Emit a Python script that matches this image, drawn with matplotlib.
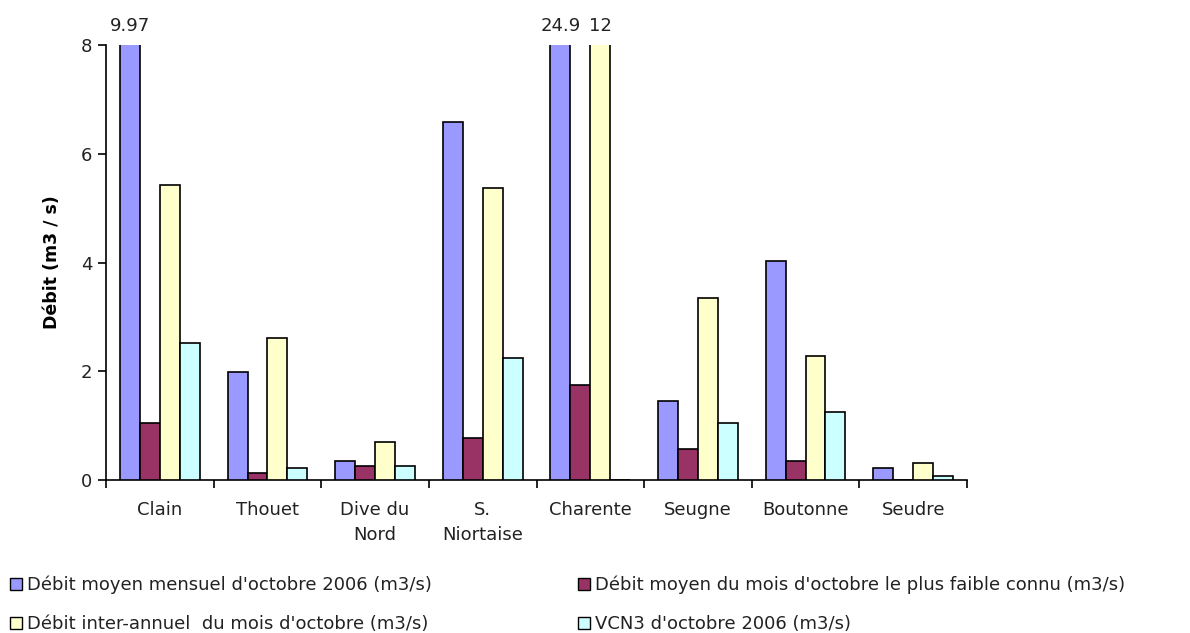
import matplotlib
matplotlib.use("Agg")
import matplotlib.pyplot as plt
import matplotlib.patches as mpatches
import numpy as np

plt.rcParams['font.family'] = ['DejaVu Sans']

categories = ["Clain", "Thouet", "Dive du\nNord", "S.\nNiortaise", "Charente", "Seugne", "Boutonne", "Seudre"]
series_names = [
    "Débit moyen mensuel d'octobre 2006 (m3/s)",
    "Débit moyen du mois d'octobre le plus faible connu (m3/s)",
    "Débit inter-annuel  du mois d'octobre (m3/s)",
    "VCN3 d'octobre 2006 (m3/s)",
]
debit_moyen_2006 = [9.97, 1.99, 0.35, 6.58, 24.9, 1.45, 4.03, 0.22]
debit_plus_faible = [1.05, 0.13, 0.26, 0.77, 1.75, 0.57, 0.35, 0.0]
debit_inter_annuel = [5.42, 2.61, 0.70, 5.37, 12.0, 3.35, 2.28, 0.31]
vcn3_2006 = [2.52, 0.22, 0.26, 2.24, 0.0, 1.05, 1.25, 0.07]
series = [debit_moyen_2006, debit_plus_faible, debit_inter_annuel, vcn3_2006]
colors = ["#9999FF", "#993366", "#FFFFCC", "#CCFFFF"]
ymax = 8
fs = 13

fig = plt.figure(figsize=(11.9, 6.33), dpi=100)
ax = fig.add_axes([106/1190, 1-480/633, (967-106)/1190, (480-45)/633])

n = len(categories)
x = np.arange(n)
w = 0.185
for i, (vals, c) in enumerate(zip(series, colors)):
    pos = x + (i - 1.5) * w
    ax.bar(pos, vals, width=w, color=c, edgecolor="black", linewidth=1.2, zorder=3)
    for p, v in zip(pos, vals):
        if v > ymax:
            ax.text(p, ymax + 0.18, f"{v:g}", ha="center", va="bottom", fontsize=fs,
                    color="#222222")

ax.set_xlim(-0.5, n - 0.5)
ax.set_ylim(0, ymax)
ax.set_yticks([0, 2, 4, 6, 8])
ax.set_xticks(np.arange(-0.5, n, 1.0))
ax.set_xticklabels([])
ax.tick_params(axis="x", length=6, width=1.2, direction="out")
ax.tick_params(axis="y", length=6, width=1.2, direction="out", labelsize=fs, pad=4,
               labelcolor="#222222")
for i, lab in enumerate(categories):
    ax.text(i, -0.38, lab, ha="center", va="top", fontsize=fs, linespacing=1.5,
            color="#222222", transform=ax.transData)
for s in ["top", "right"]:
    ax.spines[s].set_visible(False)
for s in ["left", "bottom"]:
    ax.spines[s].set_linewidth(1.2)
ax.set_ylabel("Débit (m3 / s)", fontsize=fs - 0.5, fontweight="bold", labelpad=14)

handles = [mpatches.Patch(facecolor=c, edgecolor="black", linewidth=1.0) for c in colors]
common = dict(loc="upper left", frameon=False, fontsize=fs, handlelength=0.65,
              handleheight=0.65, handletextpad=0.3, labelspacing=1.15, borderaxespad=0,
              borderpad=0, labelcolor="#222222")
leg1 = fig.legend([handles[0], handles[2]], [series_names[0], series_names[2]],
                  bbox_to_anchor=(10/1190, 1-576/633), **common)
leg2 = fig.legend([handles[1], handles[3]], [series_names[1], series_names[3]],
                  bbox_to_anchor=(578/1190, 1-576/633), **common)

fig.savefig("out.png", dpi=100)
